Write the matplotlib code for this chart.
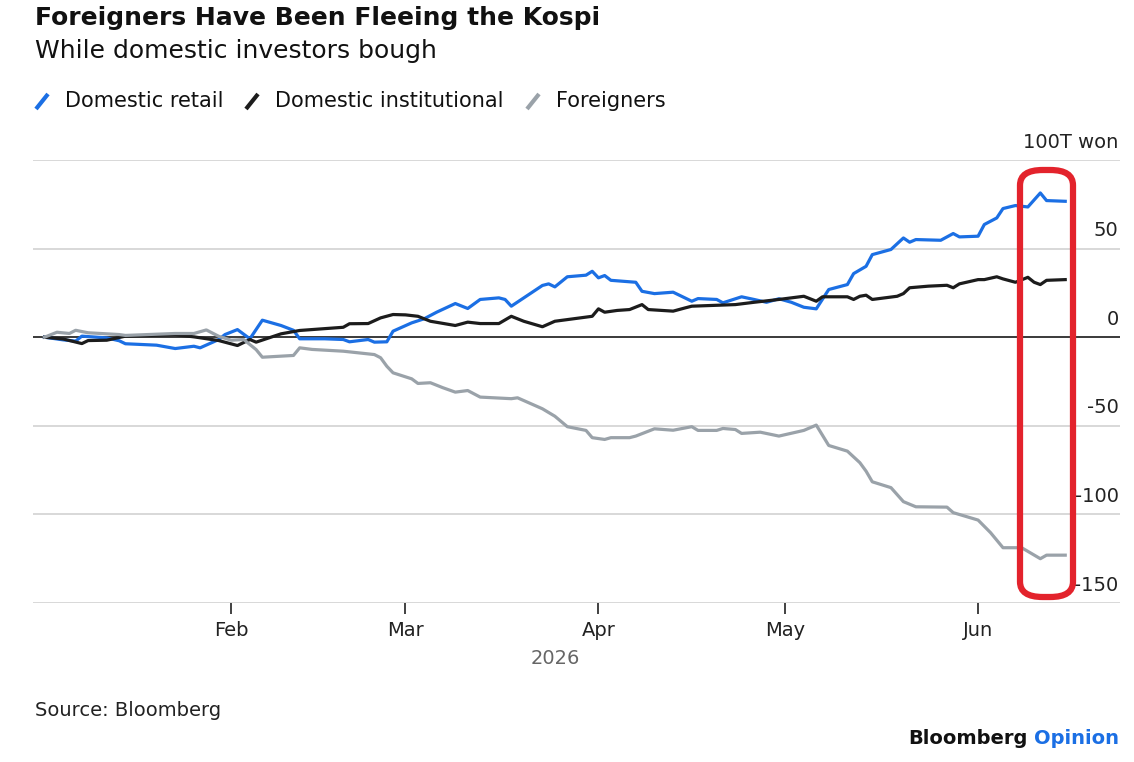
import matplotlib
matplotlib.use('Agg')
import matplotlib.pyplot as plt
import matplotlib.dates as mdates
from matplotlib.lines import Line2D
from matplotlib.patches import FancyBboxPatch
import pandas as pd

plt.rcParams['font.family'] = ['DejaVu Sans']

# cumulative net buying, trillion won
retail_dates = ['2026-01-02', '2026-01-05', '2026-01-07', '2026-01-08', '2026-01-12', '2026-01-14',
                '2026-01-15', '2026-01-20', '2026-01-23', '2026-01-26', '2026-01-27', '2026-01-30',
                '2026-01-31', '2026-02-02', '2026-02-04', '2026-02-06', '2026-02-09', '2026-02-11',
                '2026-02-12', '2026-02-16', '2026-02-19', '2026-02-20', '2026-02-23', '2026-02-24',
                '2026-02-26', '2026-02-27', '2026-03-02', '2026-03-04', '2026-03-06', '2026-03-09',
                '2026-03-11', '2026-03-13', '2026-03-16', '2026-03-17', '2026-03-18', '2026-03-23',
                '2026-03-24', '2026-03-25', '2026-03-27', '2026-03-30', '2026-03-31', '2026-04-01',
                '2026-04-02', '2026-04-03', '2026-04-07', '2026-04-08', '2026-04-10', '2026-04-13',
                '2026-04-16', '2026-04-17', '2026-04-20', '2026-04-21', '2026-04-24', '2026-04-26',
                '2026-04-28', '2026-04-30', '2026-05-02', '2026-05-04', '2026-05-06', '2026-05-08',
                '2026-05-11', '2026-05-12', '2026-05-14', '2026-05-15', '2026-05-18', '2026-05-20',
                '2026-05-21', '2026-05-22', '2026-05-26', '2026-05-28', '2026-05-29', '2026-06-01',
                '2026-06-02', '2026-06-04', '2026-06-05', '2026-06-07', '2026-06-09', '2026-06-11',
                '2026-06-12', '2026-06-15']
retail = [0, -1.5, -2.2, 0.6, -0.4, -2.0,
          -3.7, -4.5, -6.4, -5.1, -6.0, -1.3,
          1.5, 4.3, -0.9, 9.6, 6.6, 3.9,
          -0.9, -0.9, -1.3, -2.6, -1.3, -2.8,
          -2.6, 3.4, 8.1, 10.4, 14.1, 19.0,
          16.2, 21.3, 22.2, 21.3, 17.5, 29.2,
          30.1, 28.4, 34.1, 35.0, 37.2, 33.5,
          34.8, 32.1, 31.0, 25.9, 24.6, 25.4,
          20.3, 21.8, 21.3, 19.4, 22.8, 21.3,
          19.7, 21.7, 19.7, 16.9, 16.0, 26.9,
          29.7, 35.9, 40.0, 46.6, 49.5, 56.0,
          53.6, 55.1, 54.7, 58.5, 56.6, 57.0,
          63.6, 67.3, 72.6, 74.3, 73.5, 81.4,
          77.1, 76.7]

inst_dates = ['2026-01-02', '2026-01-05', '2026-01-08', '2026-01-09', '2026-01-12', '2026-01-15',
              '2026-01-20', '2026-01-23', '2026-01-26', '2026-01-30', '2026-02-02', '2026-02-04',
              '2026-02-05', '2026-02-09', '2026-02-12', '2026-02-19', '2026-02-20', '2026-02-23',
              '2026-02-25', '2026-02-27', '2026-03-01', '2026-03-03', '2026-03-05', '2026-03-09',
              '2026-03-11', '2026-03-13', '2026-03-16', '2026-03-18', '2026-03-20', '2026-03-23',
              '2026-03-25', '2026-03-28', '2026-03-31', '2026-04-01', '2026-04-02', '2026-04-04',
              '2026-04-06', '2026-04-08', '2026-04-09', '2026-04-13', '2026-04-15', '2026-04-16',
              '2026-04-23', '2026-04-26', '2026-04-30', '2026-05-04', '2026-05-06', '2026-05-07',
              '2026-05-11', '2026-05-12', '2026-05-13', '2026-05-14', '2026-05-15', '2026-05-19',
              '2026-05-20', '2026-05-21', '2026-05-24', '2026-05-27', '2026-05-28', '2026-05-29',
              '2026-06-01', '2026-06-02', '2026-06-04', '2026-06-05', '2026-06-07', '2026-06-09',
              '2026-06-10', '2026-06-11', '2026-06-12', '2026-06-15']
institutional = [0, -1.0, -3.6, -1.9, -1.7, 0.6,
                 1.1, 1.4, 0.2, -1.9, -4.7, -1.3,
                 -2.8, 1.9, 3.8, 5.6, 7.6, 7.7,
                 10.9, 12.8, 12.6, 11.8, 9.0, 6.6,
                 8.5, 7.7, 7.7, 11.8, 9.0, 5.9,
                 9.0, 10.4, 11.8, 16.0, 14.1, 15.1,
                 15.6, 18.4, 15.6, 14.7, 16.6, 17.5,
                 18.4, 19.7, 21.3, 23.1, 20.3, 22.8,
                 22.8, 21.3, 23.1, 23.7, 21.3, 23.1,
                 24.6, 27.9, 28.8, 29.3, 27.9, 30.1,
                 32.5, 32.5, 34.1, 32.9, 31.0, 33.8,
                 31.0, 29.7, 32.1, 32.5]

foreign_dates = ['2026-01-02', '2026-01-04', '2026-01-06', '2026-01-07', '2026-01-09', '2026-01-14',
                 '2026-01-15', '2026-01-23', '2026-01-26', '2026-01-28', '2026-01-30', '2026-02-01',
                 '2026-02-03', '2026-02-05', '2026-02-06', '2026-02-11', '2026-02-12', '2026-02-14',
                 '2026-02-19', '2026-02-24', '2026-02-25', '2026-02-26', '2026-02-27', '2026-03-02',
                 '2026-03-03', '2026-03-05', '2026-03-07', '2026-03-09', '2026-03-11', '2026-03-13',
                 '2026-03-18', '2026-03-19', '2026-03-23', '2026-03-25', '2026-03-27', '2026-03-30',
                 '2026-03-31', '2026-04-02', '2026-04-03', '2026-04-06', '2026-04-07', '2026-04-10',
                 '2026-04-13', '2026-04-16', '2026-04-17', '2026-04-20', '2026-04-21', '2026-04-23',
                 '2026-04-24', '2026-04-27', '2026-04-30', '2026-05-04', '2026-05-06', '2026-05-08',
                 '2026-05-11', '2026-05-13', '2026-05-14', '2026-05-15', '2026-05-18', '2026-05-20',
                 '2026-05-22', '2026-05-27', '2026-05-28', '2026-06-01', '2026-06-03', '2026-06-05',
                 '2026-06-08', '2026-06-11', '2026-06-12', '2026-06-15']
foreigners = [0, 2.8, 2.1, 3.9, 2.5, 1.5,
              1.0, 2.1, 2.1, 4.1, 0.5, -1.7,
              -1.3, -7.0, -11.3, -10.3, -6.0, -6.9,
              -7.9, -9.8, -11.6, -16.4, -20.1, -23.5,
              -26.1, -25.7, -28.5, -31.0, -30.1, -33.8,
              -34.7, -34.2, -40.4, -44.6, -50.5, -52.6,
              -56.7, -57.7, -56.7, -56.7, -55.8, -51.7,
              -52.5, -50.5, -52.6, -52.6, -51.5, -52.1,
              -54.3, -53.6, -55.8, -52.6, -49.6, -61.1,
              -64.3, -70.8, -75.6, -81.6, -84.9, -92.8,
              -95.7, -95.9, -99.0, -103.2, -110.3, -118.8,
              -118.8, -125.0, -123.0, -123.0]

series_names = ['Domestic retail', 'Domestic institutional', 'Foreigners']
colors = ['#1b6fe4', '#1c1c1c', '#9aa2a9']
y_ticks = [100, 50, 0, -50, -100, -150]
y_labels = ['100T won', '50', '0', '-50', '-100', '-150']
month_ticks = ['2026-02-01', '2026-03-01', '2026-04-01', '2026-05-01', '2026-06-01']

fig = plt.figure(figsize=(11.34, 7.62), dpi=100, facecolor='white')
ax = fig.add_axes([33 / 1134, 1 - 603 / 762, (1120 - 33) / 1134, (603 - 160) / 762])

all_dates = [retail_dates, inst_dates, foreign_dates]
all_vals = [retail, institutional, foreigners]
for d, v, c in zip(all_dates, all_vals, colors):
    ax.plot(pd.to_datetime(d), v, color=c, lw=2.3, solid_joinstyle='round', zorder=3)

jan1 = pd.Timestamp('2026-01-01')
ax.set_xlim(jan1 - pd.Timedelta(days=0.85), jan1 + pd.Timedelta(days=173.8))
ax.set_ylim(-150, 100)

for yt in y_ticks:
    if yt == 0:
        ax.axhline(0, color='#2b2b2b', lw=1.3, zorder=2)
    else:
        ax.axhline(yt, color='#d6d6d6', lw=1.3, zorder=1)
for yt, lab in zip(y_ticks, y_labels):
    ax.annotate(lab, xy=(1.0, yt), xycoords=('axes fraction', 'data'),
                xytext=(-1, 6), textcoords='offset points', ha='right', va='bottom',
                fontsize=14, color='#222222')

for s in ax.spines.values():
    s.set_visible(False)
ax.set_yticks([])
ax.set_xticks(pd.to_datetime(month_ticks))
ax.xaxis.set_major_formatter(mdates.DateFormatter('%b'))
ax.tick_params(axis='x', length=8, width=1.3, color='#333333', pad=5,
               labelsize=14, labelcolor='#222222')

# title block
fig.text(35 / 1134, 1 - 18 / 762, 'Foreigners Have Been Fleeing the Kospi', fontsize=18,
         fontweight='bold', va='center', ha='left', color='#111111')
fig.text(35 / 1134, 1 - 51 / 762, 'While domestic investors bough', fontsize=18,
         va='center', ha='left', color='#111111')

# legend
leg_x = [36, 246, 527]
for lx, name, c in zip(leg_x, series_names, colors):
    fig.add_artist(Line2D([lx / 1134, (lx + 12) / 1134], [1 - 109 / 762, 1 - 94 / 762],
                          color=c, lw=3, solid_capstyle='butt', transform=fig.transFigure))
    fig.text((lx + 29) / 1134, 1 - 101 / 762, name, fontsize=15, va='center', ha='left',
             color='#111111')

fig.text(555 / 1134, 1 - 658 / 762, '2026', fontsize=14, ha='center', va='center',
         color='#666666')
fig.text(35 / 1134, 1 - 710 / 762, 'Source: Bloomberg', fontsize=14, ha='left', va='center',
         color='#222222')
fig.text(1028 / 1134, 1 - 739 / 762, 'Bloomberg', fontsize=14, fontweight='bold',
         ha='right', va='center', color='#111111')
fig.text(1034 / 1134, 1 - 739 / 762, 'Opinion', fontsize=14, fontweight='bold',
         ha='left', va='center', color='#1b6fe4')

# red highlight box
box = FancyBboxPatch((1020 / 1134, 1 - 597 / 762), 53 / 1134, 427 / 762,
                     boxstyle='round,pad=0,rounding_size=0.02', transform=fig.transFigure,
                     fill=False, edgecolor='#e3232c', lw=4.5, zorder=10)
fig.add_artist(box)

fig.savefig('out.png', dpi=100, facecolor='white')
